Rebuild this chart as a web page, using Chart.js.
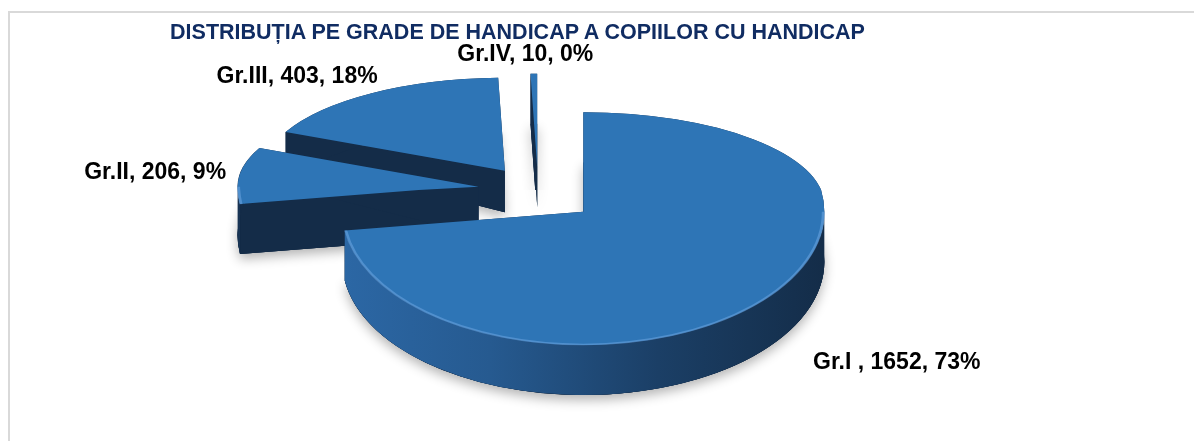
<!DOCTYPE html>
<html lang="ro">
<head>
    <meta charset="UTF-8">
    <title>Distribuția pe grade de handicap</title>
    <style>
        body {
            margin: 0;
            background: #fff;
        }

        /* chenarul gri al diagramei */
        .chenar {
            position: absolute;
            left: 8px;
            top: 11px;
            right: 0;
            bottom: 0;
            border-top: 2px solid #d9d9d9;
            border-left: 2px solid #d9d9d9;
        }

        .titlu {
            position: absolute;
            left: 0;
            top: 20px;
            width: 1035px;
            text-align: center;
            font: bold 21.5px "Liberation Sans", Arial, sans-serif;
            color: #102c62;
        }

        canvas {
            position: absolute;
            left: 0;
            top: 0;
        }
    </style>
</head>
<body>

<div class="chenar"></div>
<canvas id="grafic" width="1194" height="441"></canvas>
<div class="titlu">DISTRIBUȚIA PE GRADE DE HANDICAP A COPIILOR CU HANDICAP</div>

<script src="https://cdn.jsdelivr.net/npm/chart.js"></script>
<script>
    const categorii = ['Gr.I ', 'Gr.II', 'Gr.III', 'Gr.IV'];
    const numarCopii = [1652, 206, 403, 10];

    const total = numarCopii.reduce((a, b) => a + b, 0);
    const procente = numarCopii.map(v => Math.round(v / total * 100));

    // aspect 3D (perspectiva aproximata: spatele mai turtit decat fata)
    const INCLINARE_SPATE = 0.386;
    const INCLINARE_FATA = 0.553;
    const ADANCIME = 50;      // grosimea in pixeli
    const EXPLODARE = 60;     // cat de departe e trasa fiecare felie
    const CULOARE_FATA = '#2e75b6';
    const CULOARE_TAIETURA = '#142c48';
    // mici ajustari pentru etichete (px)
    const deplasareEtichete = [[35, 0], [0, 0], [18, -1], [-8, 3]];

    function centruFelie(arc) {
        const mijloc = (arc.startAngle + arc.endAngle) / 2;
        return {
            x: arc.x + Math.cos(mijloc) * EXPLODARE,
            y: arc.y + Math.sin(mijloc) * EXPLODARE,
            mijloc: mijloc
        };
    }

    // partile arcului care sunt spre privitor (jumatatea de jos)
    function intervaleFata(a0, a1) {
        const rez = [];
        for (let k = -2; k <= 2; k++) {
            const lo = Math.max(a0, k * 2 * Math.PI);
            const hi = Math.min(a1, k * 2 * Math.PI + Math.PI);
            if (hi > lo) rez.push([lo, hi]);
        }
        return rez;
    }

    function peretiFelie(ctx, c, r, a0, a1, dd) {
        const p0 = { x: c.x + r * Math.cos(a0), y: c.y + r * Math.sin(a0) };
        const p1 = { x: c.x + r * Math.cos(a1), y: c.y + r * Math.sin(a1) };
        // fundul
        ctx.beginPath();
        ctx.moveTo(c.x, c.y + dd);
        ctx.arc(c.x, c.y + dd, r, a0, a1);
        ctx.closePath();
        ctx.fill();
        // taieturile drepte
        [p0, p1].forEach(p => {
            ctx.beginPath();
            ctx.moveTo(c.x, c.y);
            ctx.lineTo(p.x, p.y);
            ctx.lineTo(p.x, p.y + dd);
            ctx.lineTo(c.x, c.y + dd);
            ctx.closePath();
            ctx.fill();
        });
        // marginea rotunda
        ctx.beginPath();
        ctx.arc(c.x, c.y, r, a0, a1);
        ctx.arc(c.x, c.y + dd, r, a1, a0, true);
        ctx.closePath();
        ctx.fill();
    }

    function deseneazaScena(ctx, arce, cy, k) {
        const cx = arce[0].x;
        const dd = ADANCIME / k;
        const ordine = arce
            .map(arc => ({ arc: arc, c: centruFelie(arc) }))
            .sort((a, b) => a.c.y - b.c.y);

        ctx.save();
        ctx.translate(0, cy);
        ctx.scale(1, k);
        ctx.translate(0, -cy);

        // umbra de sub disc
        ctx.save();
        ctx.shadowColor = 'rgba(0,0,0,0.3)';
        ctx.shadowBlur = 12;
        ctx.shadowOffsetY = 5;
        ctx.fillStyle = CULOARE_TAIETURA;
        ordine.forEach(o => {
            ctx.beginPath();
            ctx.moveTo(o.c.x, o.c.y + dd);
            ctx.arc(o.c.x, o.c.y + dd, o.arc.outerRadius, o.arc.startAngle, o.arc.endAngle);
            ctx.closePath();
            ctx.fill();
        });
        ctx.restore();

        // peretii laterali
        ordine.forEach(o => {
            const r = o.arc.outerRadius;
            ctx.fillStyle = CULOARE_TAIETURA;
            peretiFelie(ctx, o.c, r, o.arc.startAngle, o.arc.endAngle, dd);

            const grad = ctx.createLinearGradient(cx - r - EXPLODARE, 0, cx + r + EXPLODARE, 0);
            grad.addColorStop(0, '#173252');
            grad.addColorStop(0.16, '#2c68a6');
            grad.addColorStop(0.42, '#265a90');
            grad.addColorStop(0.7, '#1b3f66');
            grad.addColorStop(1, '#132b46');
            intervaleFata(o.arc.startAngle, o.arc.endAngle).forEach(([a, b]) => {
                ctx.beginPath();
                ctx.arc(o.c.x, o.c.y, r, a, b);
                ctx.arc(o.c.x, o.c.y + dd, r, b, a, true);
                ctx.closePath();
                ctx.fillStyle = grad;
                ctx.fill();
            });
        });

        // fetele de sus, desenate de Chart.js
        ordine.forEach(o => {
            ctx.save();
            ctx.translate(o.c.x - o.arc.x, o.c.y - o.arc.y);
            o.arc.draw(ctx);
            ctx.restore();
        });

        // muchie luminoasa pe marginea din fata
        ordine.forEach(o => {
            intervaleFata(o.arc.startAngle, o.arc.endAngle).forEach(([a, b]) => {
                ctx.beginPath();
                ctx.arc(o.c.x, o.c.y, o.arc.outerRadius - 1, a, b);
                ctx.strokeStyle = 'rgba(110,165,225,0.55)';
                ctx.lineWidth = 3;
                ctx.stroke();
            });
        });

        ctx.restore();
    }

    const pie3d = {
        id: 'pie3d',
        beforeDatasetDraw(chart, args) {
            const ctx = chart.ctx;
            const arce = args.meta.data;
            const cy = arce[0].y;
            const W = chart.width, H = chart.height;

            // jumatatea din spate
            ctx.save();
            ctx.beginPath();
            ctx.rect(0, 0, W, cy);
            ctx.clip();
            deseneazaScena(ctx, arce, cy, INCLINARE_SPATE);
            ctx.restore();

            // jumatatea din fata
            ctx.save();
            ctx.beginPath();
            ctx.rect(0, cy, W, H - cy);
            ctx.clip();
            deseneazaScena(ctx, arce, cy, INCLINARE_FATA);
            ctx.restore();

            return false;
        },
        afterDatasetsDraw(chart) {
            const ctx = chart.ctx;
            const meta = chart.getDatasetMeta(0);
            const cy = meta.data[0].y;
            ctx.save();
            ctx.font = 'bold 23px "Liberation Sans", Arial, sans-serif';
            ctx.fillStyle = '#000';
            ctx.textAlign = 'center';
            ctx.textBaseline = 'middle';
            meta.data.forEach((arc, i) => {
                const c = centruFelie(arc);
                const cos = Math.cos(c.mijloc);
                const sin = Math.sin(c.mijloc);
                const r = arc.outerRadius;
                const wy = c.y + r * sin;
                const k = wy < cy ? INCLINARE_SPATE : INCLINARE_FATA;
                let x = c.x + r * cos;
                let y = cy + (wy - cy) * k;
                if (sin > 0) y += ADANCIME;
                const len = Math.hypot(cos, sin * k);
                x += 14 * cos / len;
                y += 14 * sin * k / len;

                const text = `${categorii[i]}, ${numarCopii[i]}, ${procente[i]}%`;
                const w = ctx.measureText(text).width;
                const h = 16;
                const left = cos > 0.35 ? x : (cos < -0.35 ? x - w : x - w / 2);
                const top = sin > 0.35 ? y : (sin < -0.35 ? y - h : y - h / 2);
                ctx.fillText(text, left + w / 2 + deplasareEtichete[i][0], top + h / 2 + deplasareEtichete[i][1]);
            });
            ctx.restore();
        }
    };

    new Chart(document.getElementById('grafic'), {
        type: 'pie',
        data: {
            labels: categorii,
            datasets: [{
                data: numarCopii,
                backgroundColor: CULOARE_FATA,
                borderWidth: 0,
                hoverOffset: 0
            }]
        },
        options: {
            responsive: false,
            animation: false,
            radius: 241,
            layout: {
                padding: { left: 0, right: 118, top: 0, bottom: 61 }
            },
            plugins: {
                legend: { display: false },
                tooltip: { enabled: false }
            }
        },
        plugins: [pie3d]
    });
</script>

</body>
</html>
